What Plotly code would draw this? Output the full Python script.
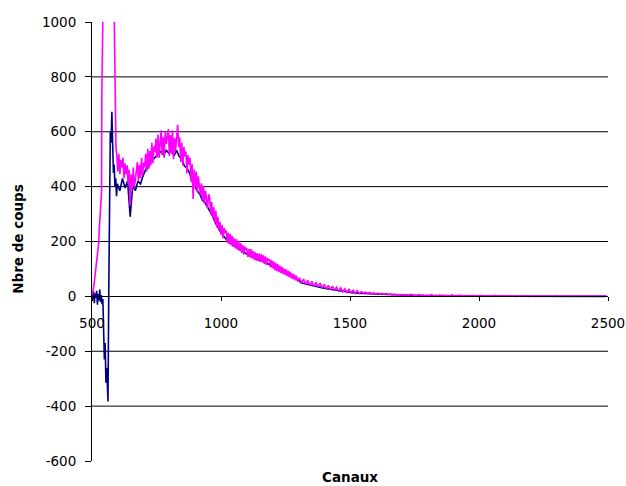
import plotly.graph_objects as go

# ---------------- data ----------------
# Magenta series
mag_x_start = [500, 503, 506, 510, 513, 516, 519, 522, 526, 528, 530, 534, 537, 538, 541,
               545, 550, 560, 570, 580, 585, 587, 590, 593]
mag_y_start = [5, 15, 30, 60, 85, 105, 134, 160, 196, 240, 280, 330, 380, 725, 900,
               1400, 2500, 3000, 3000, 2500, 1100, 900, 680, 540]

mag_x_mid = list(range(596, 1300, 4))
mag_y_mid = [
    515, 455, 520, 445, 498, 470, 505, 432, 485, 445,
    478, 410, 462, 330, 445, 390, 470, 400, 425, 455,
    490, 420, 480, 432, 505, 440, 488, 470, 520, 455,
    538, 465, 530, 478, 560, 485, 548, 525, 575, 505,
    590, 505, 565, 605, 515, 582, 505, 600, 555, 578,
    610, 512, 588, 520, 605, 500, 578, 530, 598, 625,
    545, 580, 490, 560, 478, 545, 510, 528, 448, 515,
    480, 505, 418, 482, 355, 462, 398, 455, 380, 438,
    405, 372, 412, 350, 402, 338, 385, 360, 322, 372,
    360, 300, 345, 285, 325, 268, 312, 252, 290, 240,
    272, 225, 260, 212, 250, 230, 240, 196, 232, 190,
    228, 186, 220, 180, 212, 175, 208, 170, 202, 166,
    194, 158, 188, 152, 182, 168, 176, 144, 172, 142,
    172, 138, 166, 134, 162, 130, 158, 128, 156, 126,
    154, 124, 150, 118, 146, 114, 140, 128, 136, 106,
    132, 102, 128, 96, 122, 92, 118, 88, 112, 86,
    108, 82, 102, 78, 98, 74, 94, 70, 90, 66,
    84, 62, 80, 58, 76, 55,
]

mag_x_tail = list(range(1304, 2500, 8))
mag_y_tail = [
    68, 48, 63, 44, 59, 40, 55, 37, 51, 35,
    48, 32, 44, 28, 40, 25, 37, 22, 34, 20,
    31, 17, 28, 15, 26, 13, 23, 11, 21, 10,
    17, 12, 15, 10, 14, 9, 13, 8, 12, 9,
    11, 7, 10, 6, 9, 5, 8, 6, 7, 5,
    7, 4, 6, 3, 8, 4, 5, 3, 6, 3,
    5, 2, 4, 3, 6, 2, 4, 2, 5, 3,
    4, 2, 3, 1, 5, 2, 3, 2, 4, 1,
    3, 1, 3, 2, 4, 1, 2, 1, 3, 2,
    2, 1, 3, 1, 2, 4, 1, 2, 1, 2,
    3, 1, 2, 1, 2, 0, 2, 1, 3, 1,
    2, 0, 1, 2, 1, 0, 2, 1, 1, 0,
    1, 2, 0, 1, 3, 0, 1, 1, 2, 0,
    1, 0, 2, 1, 0, 1, 2, 0, 1, 1,
    0, 1, 2, 0, 1, 1, 0, 2, 1, 1,
]

# Dark blue series
blue_x_start = [500, 503, 506, 509, 512, 515, 518, 521, 524, 527, 530, 533, 536, 539, 542,
                545, 548, 551, 554, 557, 560, 562, 565, 568, 571, 574, 577, 580, 583, 586,
                589, 592, 595]
blue_y_start = [5, -10, 18, -25, 10, -5, 20, -30, 8, -15, 25, -20, 5, -28, -10,
                -110, -230, -170, -315, -260, -350, -383, 20, 250, 600, 560, 673, 560, 450, 480,
                400, 430, 365]

blue_x_mid = list(range(598, 1300, 10))
blue_y_mid = [
    410, 385, 430, 395, 420, 290, 405, 385, 420, 410,
    440, 462, 470, 490, 500, 512, 520, 528, 515, 532,
    522, 535, 512, 532, 510, 502, 475, 468, 450, 420,
    402, 385, 372, 350, 342, 325, 305, 292, 268, 250,
    235, 222, 210, 200, 195, 185, 180, 174, 168, 160,
    155, 150, 146, 141, 137, 133, 130, 126, 120, 116,
    110, 105, 100, 95, 90, 86, 82, 77, 72, 66,
    62,
]

blue_x_tail = list(range(1310, 2500, 20))
blue_y_tail = [
    50, 45, 40, 37, 32, 28, 25, 22, 18, 16,
    13, 12, 11, 10, 9, 8, 7, 6, 6, 5,
    4, 3, 3, 3, 2, 2, 2, 2, 1, 1,
    1, 1, 1, 1, 1, 0, 1, 0, 1, 0,
    0, 1, 0, 0, 1, 0, 0, 1, 0, 0,
    0, 0, 1, 0, 0, 0, 1, 0, 0, 0,
]

magenta_x = mag_x_start + mag_x_mid + mag_x_tail
magenta_y = mag_y_start + mag_y_mid + mag_y_tail
blue_x = blue_x_start + blue_x_mid + blue_x_tail
blue_y = blue_y_start + blue_y_mid + blue_y_tail

x_ticks = [500, 1000, 1500, 2000, 2500]
y_ticks = [-600, -400, -200, 0, 200, 400, 600, 800, 1000]
grid_values = [-400, -200, 200, 400, 600, 800]

x_title = "Canaux"
y_title = "Nbre de coups"

# ---------------- figure ----------------
fig = go.Figure()
fig.add_trace(go.Scatter(x=blue_x, y=blue_y, mode="lines",
                         line=dict(color="#000080", width=1.6), hoverinfo="skip"))
fig.add_trace(go.Scatter(x=magenta_x, y=magenta_y, mode="lines",
                         line=dict(color="#FF00FF", width=1.6), hoverinfo="skip"))

for g in grid_values:
    fig.add_shape(type="line", xref="paper", x0=0, x1=1, yref="y", y0=g, y1=g,
                  line=dict(color="#000000", width=1), layer="below")

tick_font = dict(family="DejaVu Sans, Verdana, sans-serif", size=13.5, color="#000000")
title_font = dict(family="DejaVu Sans, Verdana, sans-serif", size=13.5, color="#000000")

fig.update_layout(
    width=626, height=486,
    margin=dict(l=92, r=18, t=22, b=25),
    paper_bgcolor="#FFFFFF", plot_bgcolor="#FFFFFF",
    showlegend=False,
    xaxis=dict(range=[500, 2500], tickvals=x_ticks, ticktext=[str(v) for v in x_ticks],
               showgrid=False, zeroline=False, showline=True, linecolor="#000000", linewidth=1,
               ticks="outside", ticklen=4, tickcolor="#000000", tickfont=tick_font,
               anchor="free", position=0.375, ticklabelstandoff=10, automargin=False),
    yaxis=dict(range=[-600, 1000], tickvals=y_ticks, ticktext=[str(v) for v in y_ticks],
               showgrid=False, zeroline=False, showline=True, linecolor="#000000", linewidth=1,
               ticks="outside", ticklen=6, tickcolor="#000000", tickfont=tick_font,
               domain=[0, 1], ticklabelstandoff=6, automargin=False),
    annotations=[
        dict(text="<b>" + y_title + "</b>", xref="paper", yref="paper",
             x=(18.5 - 92) / 516, y=0.505, xanchor="center", yanchor="middle",
             textangle=-90, showarrow=False, font=title_font),
        dict(text="<b>" + x_title + "</b>", xref="paper", yref="paper",
             x=0.5, y=(461 - 477) / 439, xanchor="center", yanchor="middle",
             showarrow=False, font=title_font),
    ],
)

fig.write_html("out.html", config={"displayModeBar": False, "staticPlot": True},
               post_script="document.body.style.margin='0';")
